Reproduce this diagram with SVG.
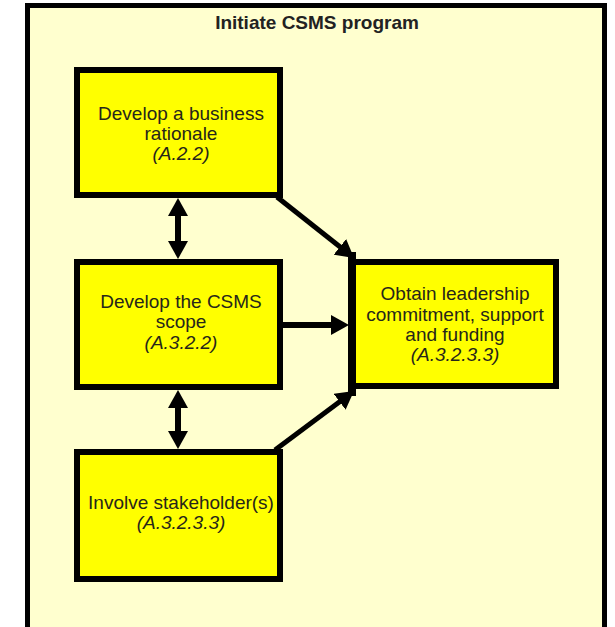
<svg xmlns="http://www.w3.org/2000/svg" width="615" height="627" viewBox="0 0 615 627">
  <style>
    .frame { fill: #FFFFCF; stroke: #000; stroke-width: 5; }
    .box { fill: #FFFF00; stroke: #000; stroke-width: 6; }
    .label { font-family: "Liberation Sans", Arial, sans-serif; font-size: 19px; fill: #26261a; text-anchor: middle; }
    .ref { font-style: italic; }
    .title { font-weight: bold; font-size: 19px; fill: #222; }
    .link { stroke: #000; stroke-width: 6; fill: none; }
    .diag { stroke-width: 5; }
  </style>
  <defs>
    <marker id="head" viewBox="0 0 18 20" refX="8" refY="10" markerWidth="18" markerHeight="20" markerUnits="userSpaceOnUse" orient="auto-start-reverse">
      <path d="M0,0 L18,10 L0,20 z" fill="#000"/>
    </marker>
  </defs>

  <rect x="0" y="0" width="615" height="627" fill="#FFFFFF"/>

  <!-- outer program frame -->
  <g id="program">
    <rect class="frame" x="27.5" y="5.5" width="577" height="640"/>
    <text class="label title" x="317" y="29">Initiate CSMS program</text>
  </g>

  <!-- connectors -->
  <g id="connectors">
    <line class="link" x1="178" y1="208" x2="178" y2="249" marker-start="url(#head)" marker-end="url(#head)"/>
    <line class="link" x1="178" y1="400" x2="178" y2="439" marker-start="url(#head)" marker-end="url(#head)"/>
    <line class="link" x1="283" y1="325" x2="339" y2="325" marker-end="url(#head)"/>
    <line class="link diag" x1="277" y1="197" x2="346.2" y2="251.8" marker-end="url(#head)"/>
    <line class="link diag" x1="275" y1="450" x2="346" y2="397" marker-end="url(#head)"/>
  </g>

  <g id="rationale">
    <rect class="box" x="77" y="70" width="203" height="125"/>
    <text class="label" x="181" y="120">Develop a business</text>
    <text class="label" x="181" y="140">rationale</text>
    <text class="label ref" x="181" y="160">(A.2.2)</text>
  </g>

  <g id="scope">
    <rect class="box" x="77" y="262" width="203" height="125"/>
    <text class="label" x="181" y="308">Develop the CSMS</text>
    <text class="label" x="181" y="328">scope</text>
    <text class="label ref" x="181" y="349">(A.3.2.2)</text>
  </g>

  <g id="stakeholders">
    <rect class="box" x="77" y="452" width="203" height="127"/>
    <text class="label" x="181" y="509">Involve stakeholder(s)</text>
    <text class="label ref" x="181" y="529">(A.3.2.3.3)</text>
  </g>

  <g id="leadership">
    <rect class="box" x="351" y="262" width="205" height="124"/>
    <line x1="352" y1="252" x2="352" y2="396" stroke="#000" stroke-width="8"/>
    <text class="label" x="455" y="300">Obtain leadership</text>
    <text class="label" x="455" y="321">commitment, support</text>
    <text class="label" x="455" y="341">and funding</text>
    <text class="label ref" x="455" y="361">(A.3.2.3.3)</text>
  </g>
</svg>
